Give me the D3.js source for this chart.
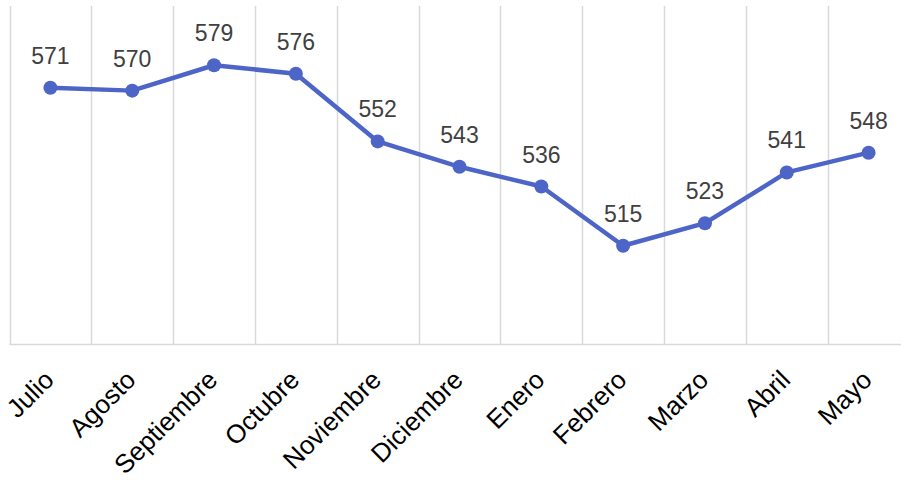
<!DOCTYPE html>
<html><head><meta charset="utf-8">
<script src="https://cdn.jsdelivr.net/npm/d3@7"></script>
<style>body{margin:0;background:#fff}svg{display:block}</style>
</head><body>
<script>
const months = ["Julio","Agosto","Septiembre","Octubre","Noviembre","Diciembre","Enero","Febrero","Marzo","Abril","Mayo"];
const values = [571,570,579,576,552,543,536,515,523,541,548];
const yDomain = [480,600];

const W=901,H=481;
const svg=d3.select("body").append("svg").attr("width",W).attr("height",H);
const x=d3.scaleBand().domain(months).range([9.5,909.5]).paddingInner(0).paddingOuter(0);
const y=d3.scaleLinear().domain(yDomain).range([344.5,6]);
const cx=d=>x(d)+x.bandwidth()/2;
const font="Liberation Sans, Arial, sans-serif";

const bounds=months.map(m=>x(m)).concat([x.range()[1]]);
svg.append("g").selectAll("line").data(bounds).join("line")
  .attr("x1",d=>Math.round(d)+0.5).attr("x2",d=>Math.round(d)+0.5)
  .attr("y1",y(yDomain[1])).attr("y2",y(yDomain[0]))
  .attr("stroke","#d9d9d9").attr("stroke-width",1.5);
svg.append("line").attr("x1",x.range()[0]).attr("x2",x.range()[1])
  .attr("y1",y(yDomain[0])).attr("y2",y(yDomain[0]))
  .attr("stroke","#d9d9d9").attr("stroke-width",1.5);

const ax=d3.axisBottom(x).tickSize(0).tickPadding(0);
const g=svg.append("g").attr("transform",`translate(0,${y(yDomain[0])})`).call(ax);
g.select(".domain").remove();
g.selectAll("text").attr("font-family",font).attr("font-size",26)
  .attr("fill","#000").attr("text-anchor","end").attr("dy",0).attr("y",0)
  .attr("transform","translate(5,37) rotate(-45)");

const data=months.map((m,i)=>({m,v:values[i]}));
svg.append("path").datum(data)
  .attr("d",d3.line().x(d=>cx(d.m)).y(d=>y(d.v)))
  .attr("fill","none").attr("stroke","#4e65c8").attr("stroke-width",4.5).attr("stroke-linejoin","round");
svg.append("g").selectAll("circle").data(data).join("circle")
  .attr("cx",d=>cx(d.m)).attr("cy",d=>y(d.v)).attr("r",7).attr("fill","#4e65c8");
svg.append("g").selectAll("text").data(data).join("text")
  .attr("x",d=>cx(d.m)).attr("y",d=>y(d.v)-24).attr("text-anchor","middle")
  .attr("font-family",font).attr("font-size",23).attr("fill","#404040")
  .text(d=>d.v);
</script>
</body></html>
